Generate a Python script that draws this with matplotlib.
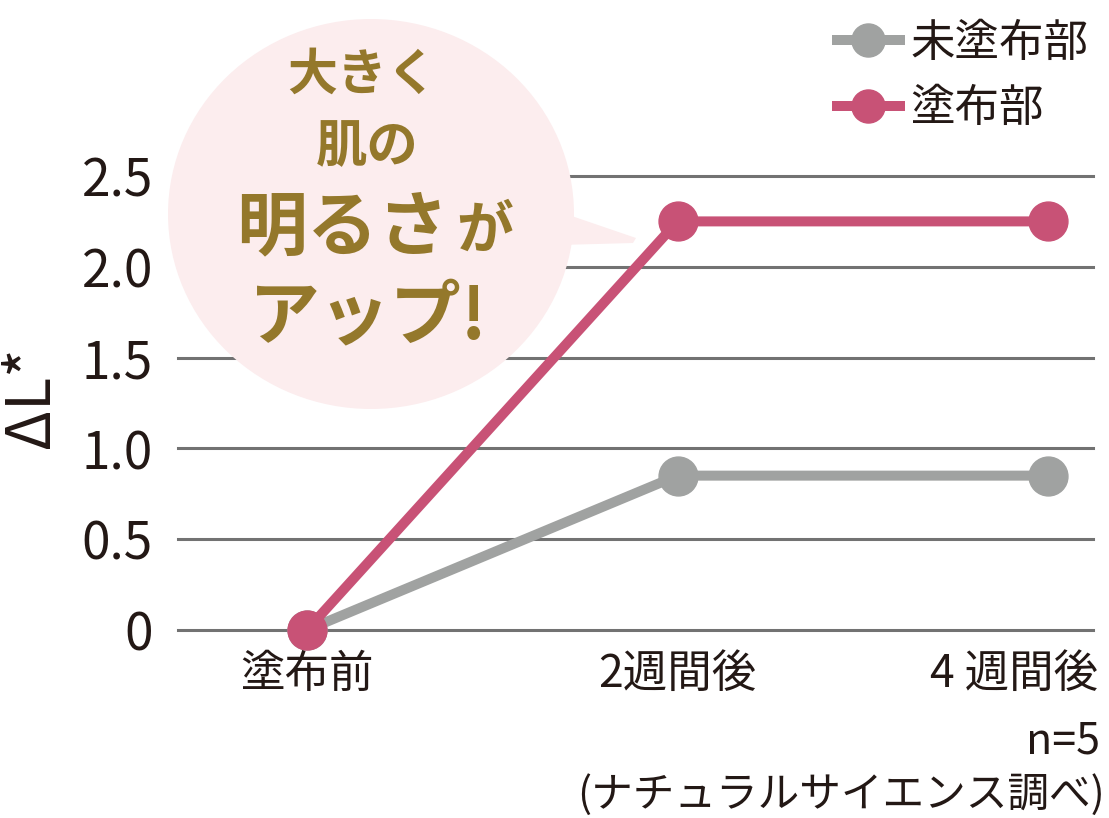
import matplotlib
matplotlib.use("Agg")
import matplotlib.pyplot as plt
from matplotlib.patches import Ellipse, Polygon
from matplotlib.transforms import Affine2D, ScaledTranslation

plt.rcParams["font.family"] = ["Noto Sans CJK JP", "DejaVu Sans"]

# -----------------------------
# data
# -----------------------------
categories = ["塗布前", "2週間後", "4 週間後"]
untreated = [0, 0.85, 0.85]
treated = [0, 2.25, 2.25]
series_names = ["未塗布部", "塗布部"]
y_ticks = [0, 0.5, 1.0, 1.5, 2.0, 2.5]
y_tick_labels = ["0", "0.5", "1.0", "1.5", "2.0", "2.5"]

TEXT = "#231815"
GRID = "#727272"
GRAY = "#a0a2a1"
PINK = "#c85276"
BUBBLE = "#fcedee"
GOLD = "#94782b"

W, H = 1109, 818
fig = plt.figure(figsize=(W / 100, H / 100), dpi=100)
ax = fig.add_axes([178 / W, 1 - 630 / H, (1093 - 178) / W, (630 - 176) / H])
ax.set_xlim(-0.348, 2.121)
ax.set_ylim(0, 2.5)
for s in ax.spines.values():
    s.set_visible(False)

# pixel transform (top-left origin) for the speech bubble decoration
px = Affine2D().scale(1 / W, -1 / H).translate(0, 1) + fig.transFigure

# gridlines
for y in y_ticks:
    ax.axhline(y, color=GRID, lw=2.2, zorder=1, clip_on=False)

# -----------------------------
# series
# -----------------------------
x = range(len(categories))
l1, = ax.plot(x, untreated, color=GRAY, lw=7.2, marker="o", ms=28,
              solid_capstyle="butt", zorder=3, clip_on=False, label=series_names[0])
l2, = ax.plot(x, treated, color=PINK, lw=7.2, marker="o", ms=28,
              solid_capstyle="butt", zorder=4, clip_on=False, label=series_names[1])

# axes ticks
ax.set_yticks(y_ticks, y_tick_labels)
ax.set_xticks(list(x), categories)
ax.tick_params(axis="y", length=0, pad=18, labelsize=37, labelcolor=TEXT)
ax.tick_params(axis="x", length=0, pad=15, labelsize=32, labelcolor=TEXT)
last = ax.get_xticklabels()[-1]
last.set_transform(last.get_transform() + ScaledTranslation(-0.34, 0, fig.dpi_scale_trans))

ax.set_ylabel("ΔL*", fontsize=44, color=TEXT, va="center", ha="center")
ax.yaxis.set_label_coords(-0.160, 0.513)

# legend
ax.legend(handles=[l1, l2], loc="upper left", bbox_to_anchor=(832 / W, 1 - 20 / H),
          bbox_transform=fig.transFigure, frameon=False, fontsize=32,
          handlelength=1.64, handletextpad=0.12, labelspacing=0.43,
          borderpad=0, borderaxespad=0, markerscale=0.85, labelcolor=TEXT)

# notes
fig.text(1100 / W, 1 - 741 / H, "n=5", ha="right", va="center", fontsize=31, color=TEXT)
fig.text(1105 / W, 1 - 795 / H, "(ナチュラルサイエンス調べ)", ha="right", va="center",
         fontsize=30, color=TEXT)

# -----------------------------
# speech bubble
# -----------------------------
ax.add_patch(Ellipse((371, 214), 406, 390, transform=px, facecolor=BUBBLE,
                     edgecolor="none", zorder=2, clip_on=False))
ax.add_patch(Polygon([(560, 212), (636, 238), (633, 243), (560, 245)], closed=True,
                     transform=px, facecolor=BUBBLE, edgecolor="none", zorder=2, clip_on=False))
bubble_kw = dict(transform=px, va="center", color=GOLD, zorder=5, clip_on=False,
                 fontweight="bold")
ax.text(362, 75, "大きく", ha="center", fontsize=36, **bubble_kw)
ax.text(367, 147, "肌の", ha="center", fontsize=37, **bubble_kw)
ax.text(449, 228, "明るさ", ha="right", fontsize=51, **bubble_kw)
ax.text(456, 231, "が", ha="left", fontsize=41, **bubble_kw)
ax.text(368, 317, "アップ!", ha="center", fontsize=51, **bubble_kw)

fig.savefig("out.png", dpi=100)
